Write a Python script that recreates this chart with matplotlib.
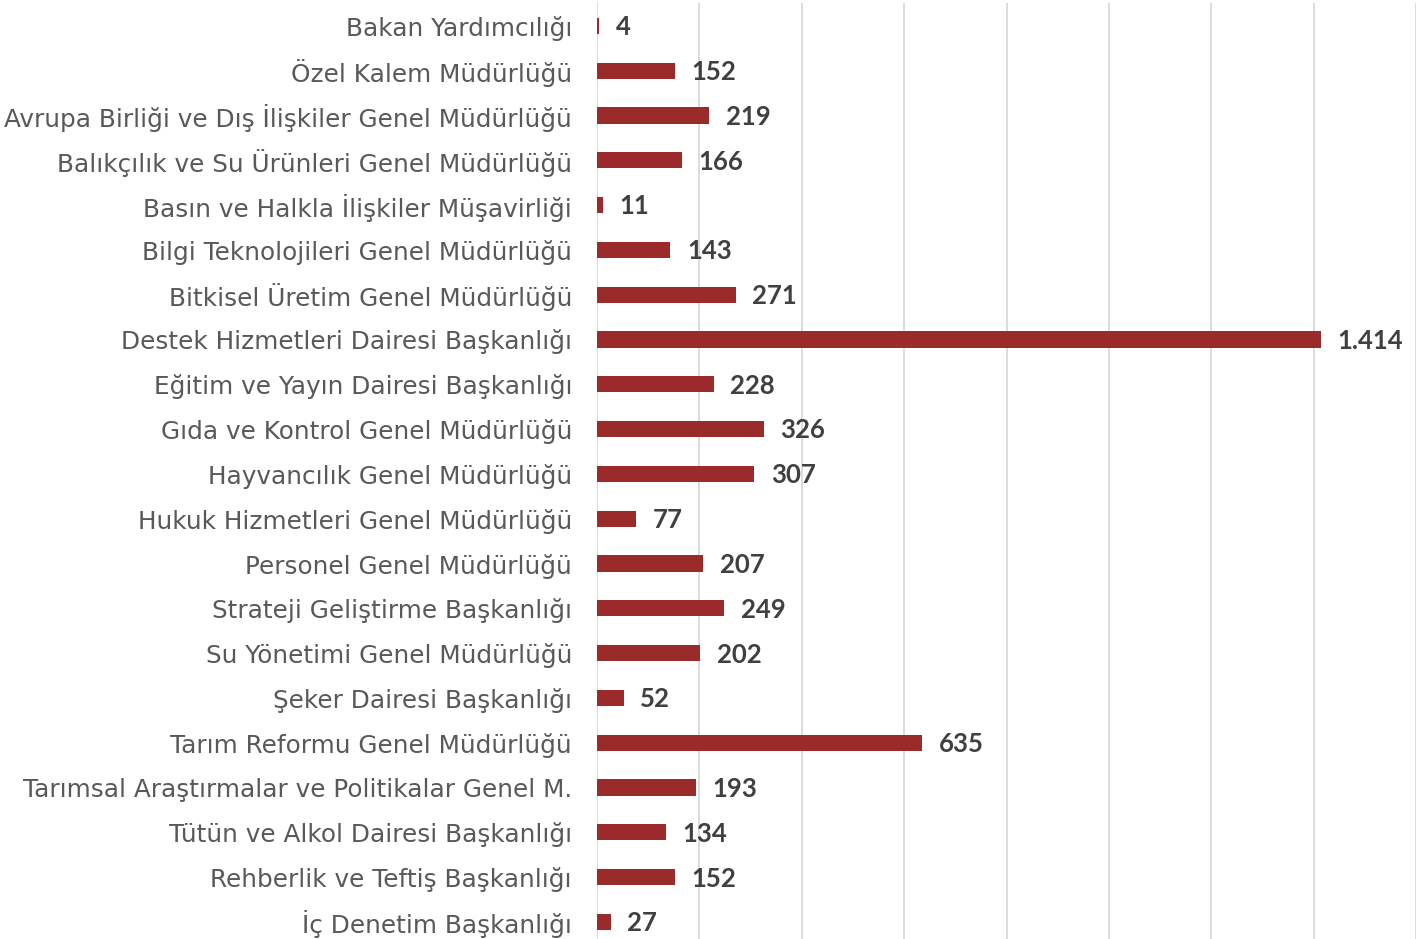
import matplotlib
matplotlib.use("Agg")
import matplotlib.pyplot as plt

categories = [
    "Bakan Yardımcılığı",
    "Özel Kalem Müdürlüğü",
    "Avrupa Birliği ve Dış İlişkiler Genel Müdürlüğü",
    "Balıkçılık ve Su Ürünleri Genel Müdürlüğü",
    "Basın ve Halkla İlişkiler Müşavirliği",
    "Bilgi Teknolojileri Genel Müdürlüğü",
    "Bitkisel Üretim Genel Müdürlüğü",
    "Destek Hizmetleri Dairesi Başkanlığı",
    "Eğitim ve Yayın Dairesi Başkanlığı",
    "Gıda ve Kontrol Genel Müdürlüğü",
    "Hayvancılık Genel Müdürlüğü",
    "Hukuk Hizmetleri Genel Müdürlüğü",
    "Personel Genel Müdürlüğü",
    "Strateji Geliştirme Başkanlığı",
    "Su Yönetimi Genel Müdürlüğü",
    "Şeker Dairesi Başkanlığı",
    "Tarım Reformu Genel Müdürlüğü",
    "Tarımsal Araştırmalar ve Politikalar Genel M.",
    "Tütün ve Alkol Dairesi Başkanlığı",
    "Rehberlik ve Teftiş Başkanlığı",
    "İç Denetim Başkanlığı",
]
values = [4, 152, 219, 166, 11, 143, 271, 1414, 228, 326, 307, 77, 207, 249, 202, 52, 635, 193, 134, 152, 27]
value_labels = ["4", "152", "219", "166", "11", "143", "271", "1.414", "228", "326", "307", "77",
                "207", "249", "202", "52", "635", "193", "134", "152", "27"]

fig = plt.figure(figsize=(14.22, 9.39), dpi=100)
ax = fig.add_axes([597/1422, 0.0, (1416-597)/1422, 1 - 3/939])

ypos = list(range(len(categories)))
ax.barh(ypos, values, height=0.36, color="#9B2A2A", zorder=3)
ax.set_xlim(0, 1600)
ax.set_ylim(len(categories) - 1 + 0.38, -0.51)
ax.set_xticks(range(0, 1601, 200))
ax.xaxis.grid(True, color="#D9D9D9", linewidth=1.3, zorder=0)
ax.tick_params(axis="x", length=0, labelbottom=False)
ax.tick_params(axis="y", length=0, pad=18)
ax.set_yticks(ypos)
ax.set_yticklabels(categories, fontsize=17.8, color="#595959", family="DejaVu Sans")
for s in ax.spines.values():
    s.set_visible(False)

for y, v, lab in zip(ypos, values, value_labels):
    ax.annotate(lab, (v, y), xytext=(12, -1), textcoords="offset points",
                va="center", ha="left", fontsize=18.5, fontweight="bold",
                color="#404040", family="Lato")

fig.savefig("out.png", dpi=100)
